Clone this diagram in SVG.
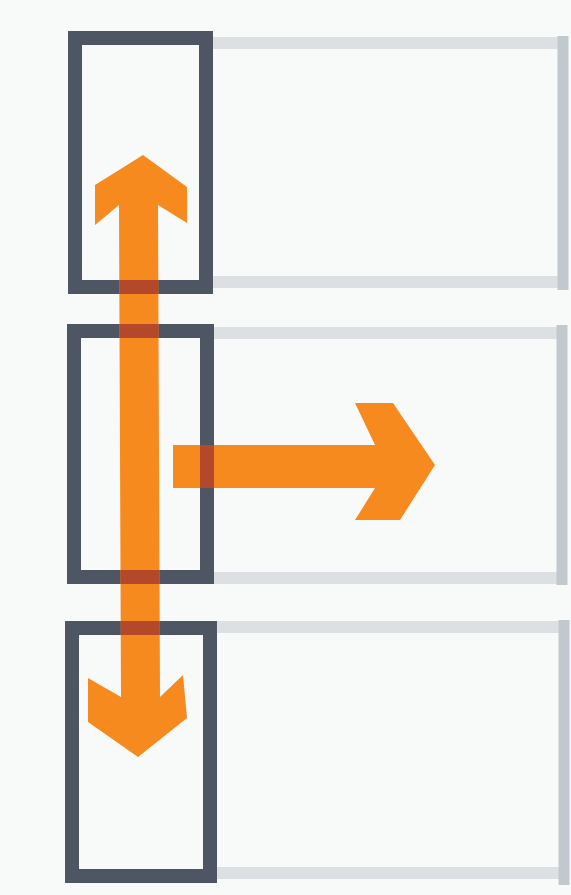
<svg xmlns="http://www.w3.org/2000/svg" width="571" height="895" viewBox="0 0 571 895">
<style>
.bg{fill:#f8f9f9}
.box{fill:none;stroke:#4e5664;stroke-width:14;stroke-linejoin:miter}
.line{stroke:#dce0e3;stroke-width:12;stroke-linecap:butt}
.edge{stroke:#c2c9ce;stroke-width:11}
.arrow{fill:#f78a1f}
.cross{fill:none;stroke:#b4482a;stroke-width:14}
</style>
<defs>
<path id="b1" d="M75 38 H206 V287 H75 Z"/>
<path id="b2" d="M74 331 H207 V577 H74 Z"/>
<path id="b3" d="M72 628 H210 V876 H72 Z"/>
<path id="vArrowShape" d="M143 155 L187 187 L187 223 L158 205 L160 697 L183 675 L187 718 L138 757 L88 722 L88 678 L121 697 L119 205 L95 225 L95 185 Z"/>
<path id="hArrowShape" d="M173 445 L375 445 L355 403 L393 403 L435 465 L400 520 L355 520 L375 488 L173 488 Z"/>
<clipPath id="clipArrows">
<use href="#vArrowShape"/>
<use href="#hArrowShape"/>
</clipPath>
</defs>
<rect class="bg" x="0" y="0" width="571" height="895"/>
<g id="row1">
<line class="line" x1="212" y1="43" x2="558" y2="43"/>
<line class="line" x1="212" y1="282" x2="558" y2="282"/>
<line class="edge" x1="563" y1="36" x2="563" y2="290"/>
</g>
<g id="row2">
<line class="line" x1="212" y1="333" x2="557" y2="333"/>
<line class="line" x1="212" y1="578" x2="557" y2="578"/>
<line class="edge" x1="562" y1="325" x2="562" y2="585"/>
</g>
<g id="row3">
<line class="line" x1="215" y1="627" x2="559" y2="627"/>
<line class="line" x1="215" y1="873" x2="559" y2="873"/>
<line class="edge" x1="564" y1="620" x2="564" y2="885"/>
</g>
<g id="box1"><use href="#b1" class="box"/></g>
<g id="box2"><use href="#b2" class="box"/></g>
<g id="box3"><use href="#b3" class="box"/></g>
<g id="connectors">
<use href="#vArrowShape" class="arrow"/>
<use href="#hArrowShape" class="arrow"/>
<g clip-path="url(#clipArrows)">
<use href="#b1" class="cross"/>
<use href="#b2" class="cross"/>
<use href="#b3" class="cross"/>
</g>
</g>
</svg>
